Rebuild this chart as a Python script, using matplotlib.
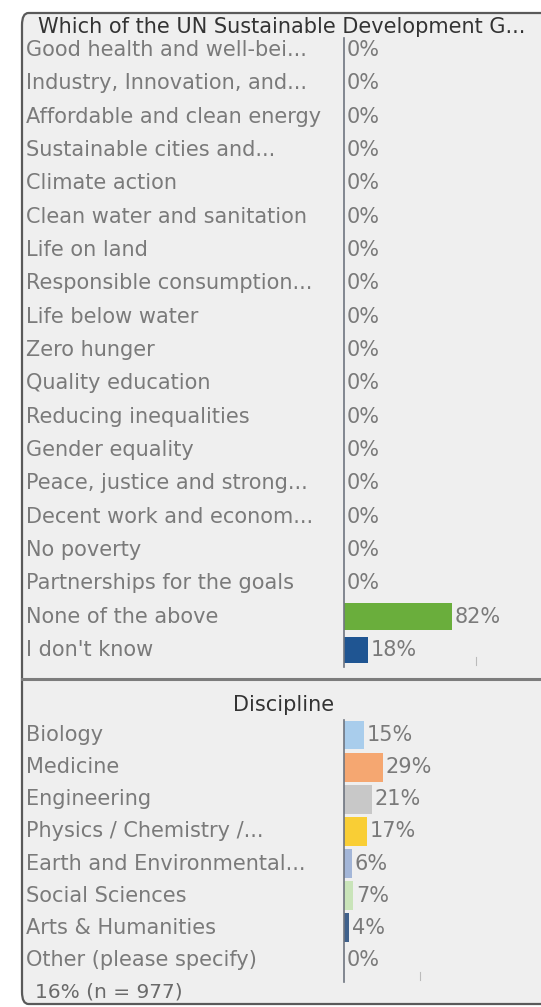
import matplotlib.pyplot as plt
import matplotlib.transforms as mtransforms
from matplotlib.patches import FancyBboxPatch
from matplotlib.lines import Line2D

# Survey answers: SDG question
sdg_labels = ['Good health and well-bei...', 'Industry, Innovation, and...',
              'Affordable and clean energy', 'Sustainable cities and...',
              'Climate action', 'Clean water and sanitation', 'Life on land',
              'Responsible consumption...', 'Life below water', 'Zero hunger',
              'Quality education', 'Reducing inequalities', 'Gender equality',
              'Peace, justice and strong...', 'Decent work and econom...',
              'No poverty', 'Partnerships for the goals', 'None of the above',
              "I don't know"]
sdg_values = [0, 0, 0, 0, 0, 0, 0, 0, 0, 0, 0, 0, 0, 0, 0, 0, 0, 82, 18]
sdg_colors = ['#b0b0b0'] * 17 + ['#6aae3c', '#1f5592']

# Respondents by discipline
disc_labels = ['Biology', 'Medicine', 'Engineering', 'Physics / Chemistry /...',
               'Earth and Environmental...', 'Social Sciences',
               'Arts & Humanities', 'Other (please specify)']
disc_values = [15, 29, 21, 17, 6, 7, 4, 0]
disc_colors = ['#a9cdec', '#f5a771', '#c8c8c8', '#f9ce35', '#a3b6d8',
               '#c9e4b9', '#40618c', '#b0b0b0']

footer = '16% (n = 977)'

W, H = 541, 1007
fig = plt.figure(figsize=(W / 100, H / 100), dpi=100)
fig.patch.set_facecolor('white')
plt.rcParams['font.family'] = ['DejaVu Sans']

label_col = '#7a7a7a'
fs = 15
axis_x = 344


def px(x, y):
    return x / W, 1 - y / H


# panel frame with rounded left corners, running off the right edge
panel = FancyBboxPatch(px(22, 1004), (560 - 22) / W, (1004 - 13) / H,
                       boxstyle='round,pad=0,rounding_size=0.012',
                       transform=fig.transFigure, facecolor='#efefef',
                       edgecolor='#5a5a5a', linewidth=1.6, zorder=-5)
fig.patches.append(panel)
fig.add_artist(Line2D([22 / W, 1], [1 - 679 / H] * 2, color='#7c7c7c',
                      linewidth=2.2, transform=fig.transFigure, zorder=-4))


def draw_panel(top, bottom, first_row, last_row, labels, values, colors,
               title, title_x, title_y, title_ha, bar_h, tick_at, scale):
    n = len(labels)
    step = (last_row - first_row) / (n - 1)
    ax = fig.add_axes([axis_x / W, 1 - bottom / H, 100 * scale / W,
                       (bottom - top) / H])
    ax.set_xlim(0, 100)
    ymax = n - 1 + (bottom - last_row) / step
    ax.set_ylim(ymax, -(first_row - top) / step)
    ax.patch.set_alpha(0)
    for s in ['top', 'right', 'bottom']:
        ax.spines[s].set_visible(False)
    ax.spines['left'].set_color('#6f7580')
    ax.spines['left'].set_linewidth(1.2)
    ax.set_xticks([])
    ax.set_yticks([])

    ax.barh(range(n), values, height=bar_h, color=colors, zorder=2)
    for i, v in enumerate(values):
        ax.annotate(f'{v}%', (v, i), xytext=(2, 0), textcoords='offset points',
                    va='center', ha='left', fontsize=fs, color=label_col)

    trans = mtransforms.blended_transform_factory(fig.transFigure, ax.transData)
    for i, lab in enumerate(labels):
        ax.text(26 / W, i, lab, transform=trans, va='center', ha='left',
                fontsize=fs, color=label_col)

    # faint scale tick near the bottom
    ax.plot([tick_at, tick_at], [ymax - 0.05, ymax - 0.3],
            color='#bbbbbb', linewidth=0.8, clip_on=False)

    fig.text(title_x / W, 1 - title_y / H, title, ha=title_ha, va='center',
             fontsize=fs, color='#333333')
    return ax


draw_panel(38, 667, 50, 650, sdg_labels, sdg_values, sdg_colors,
           'Which of the UN Sustainable Development G...', 38, 27, 'left',
           0.8, 100, 1.32)
draw_panel(720, 982, 735, 960, disc_labels, disc_values, disc_colors,
           'Discipline', 284, 705, 'center', 0.9, 57, 1.34)

fig.text(35 / W, 1 - 992 / H, footer, ha='left', va='center', fontsize=14.5,
         color='#6a6a6a')

fig.savefig('out.png', dpi=100)
